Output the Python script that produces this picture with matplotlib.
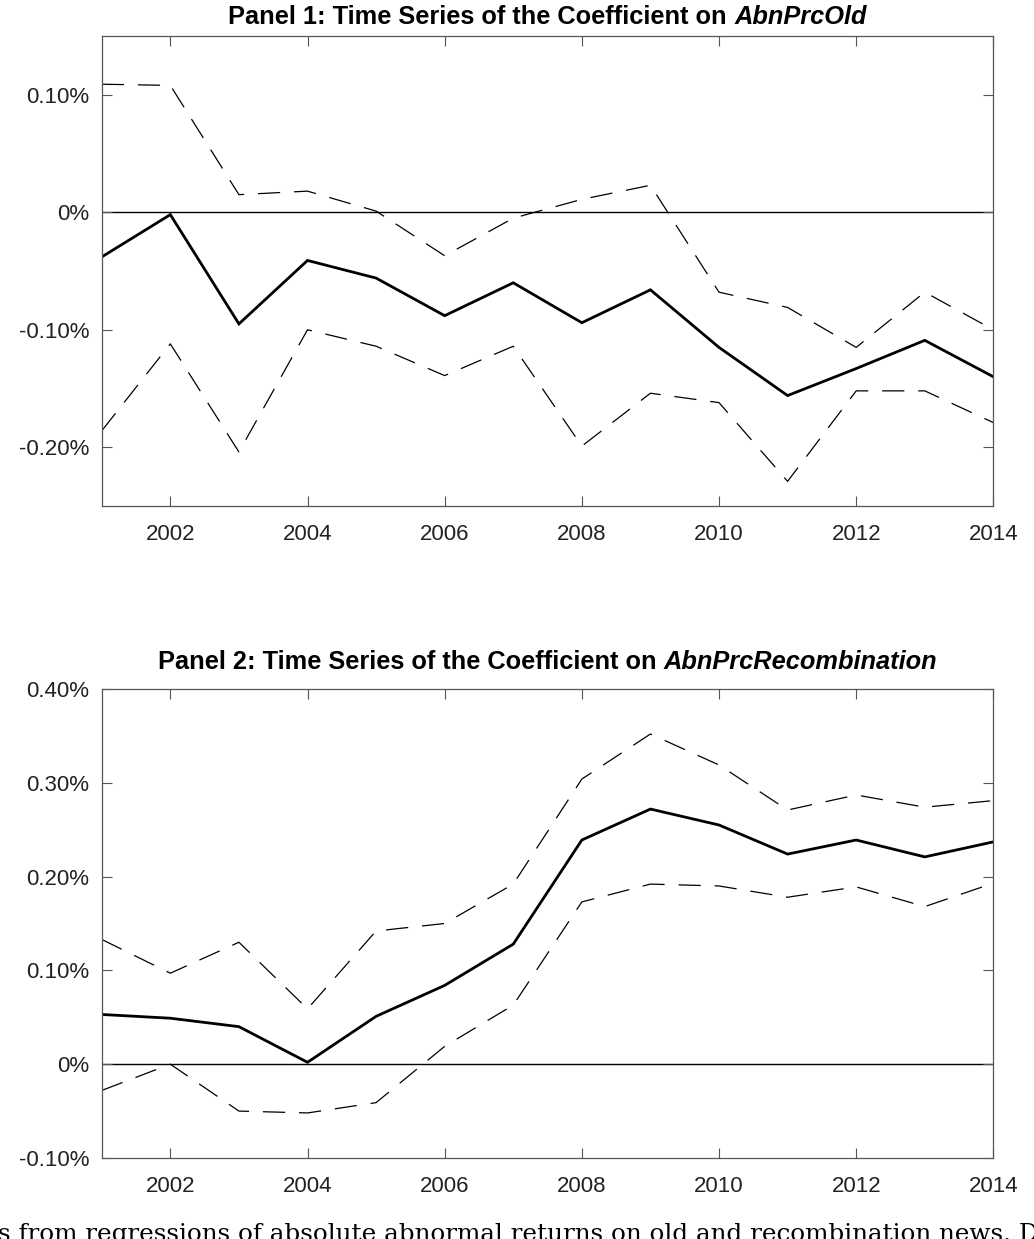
import matplotlib
matplotlib.use("Agg")
import matplotlib.pyplot as plt
from matplotlib.ticker import FuncFormatter

plt.rcParams['font.family'] = ['Liberation Sans', 'DejaVu Sans']
plt.rcParams['lines.scale_dashes'] = False

# years and coefficient estimates (in %)
years = list(range(2001, 2015))

old_coef = [-0.038, -0.002, -0.095, -0.041, -0.056, -0.088, -0.060,
            -0.094, -0.066, -0.115, -0.156, -0.133, -0.109, -0.140]
old_upper = [0.109, 0.108, 0.015, 0.018, 0.001, -0.037, -0.005,
             0.011, 0.023, -0.068, -0.081, -0.115, -0.068, -0.100]
old_lower = [-0.186, -0.112, -0.204, -0.100, -0.114, -0.139, -0.114,
             -0.199, -0.154, -0.162, -0.229, -0.152, -0.152, -0.179]

rec_coef = [0.053, 0.049, 0.040, 0.002, 0.051, 0.084, 0.128,
            0.239, 0.272, 0.255, 0.224, 0.239, 0.221, 0.237]
rec_upper = [0.133, 0.097, 0.130, 0.059, 0.142, 0.150, 0.192,
             0.304, 0.352, 0.319, 0.271, 0.287, 0.274, 0.281]
rec_lower = [-0.028, 0.000, -0.050, -0.052, -0.041, 0.019, 0.063,
             0.173, 0.192, 0.190, 0.178, 0.189, 0.168, 0.193]

panels = [
    ("Panel 1: Time Series of the Coefficient on ", "AbnPrcOld",
     old_coef, old_upper, old_lower, (-0.25, 0.15), [-0.2, -0.1, 0.0, 0.1]),
    ("Panel 2: Time Series of the Coefficient on ", "AbnPrcRecombination",
     rec_coef, rec_upper, rec_lower, (-0.1, 0.4), [-0.1, 0.0, 0.1, 0.2, 0.3, 0.4]),
]

fig = plt.figure(figsize=(10.34, 12.39), dpi=100)
ax1 = fig.add_axes([0.0984, 0.5916, 0.8623, 0.3793])
ax2 = fig.add_axes([0.0984, 0.0654, 0.8623, 0.3785])
title_y = [1.026, 1.043]


def pct(v, pos):
    if abs(v) < 1e-9:
        return "0%"
    return f"{v:.2f}%"


titles = []
for ax, ty, (t_plain, t_ital, coef, up, lo, ylim, yt) in zip([ax1, ax2], title_y, panels):
    ax.axhline(0, color='black', lw=1.0, zorder=1)
    ax.plot(years, up, color='black', lw=0.9, dashes=(16, 10))
    ax.plot(years, lo, color='black', lw=0.9, dashes=(16, 10))
    ax.plot(years, coef, color='black', lw=2.0, solid_joinstyle='miter')
    ax.set_xlim(2001, 2014)
    ax.set_ylim(*ylim)
    ax.set_xticks(range(2002, 2015, 2))
    ax.set_yticks(yt)
    ax.yaxis.set_major_formatter(FuncFormatter(pct))
    ax.tick_params(direction='in', length=7, width=0.8, color='#555555',
                   top=True, right=True, labelsize=16, labelcolor='#222222')
    ax.tick_params(axis='x', pad=13)
    ax.tick_params(axis='y', pad=9)
    for s in ax.spines.values():
        s.set_color('#555555')
        s.set_linewidth(0.9)
    t1 = ax.text(0, ty, t_plain, transform=ax.transAxes, fontsize=18.3,
                 fontweight='bold', ha='left', va='baseline')
    t2 = ax.annotate(t_ital, xy=(1, 0), xycoords=t1, fontsize=18.3,
                     fontweight='bold', style='italic', ha='left', va='bottom')
    titles.append((ax, t1, t2))

# center the two-part titles over the axes
fig.canvas.draw()
r = fig.canvas.get_renderer()
for ax, t1, t2 in titles:
    w = t1.get_window_extent(r).width + t2.get_window_extent(r).width
    axw = ax.get_window_extent(r).width
    t1.set_x(0.5 - w / axw / 2)

fig.text(-0.002, -0.0015,
         "s from regressions of absolute abnormal returns on old and recombination news. D",
         family='DejaVu Serif', fontsize=17.7, ha='left', va='baseline')

fig.savefig("out.png", dpi=100)
